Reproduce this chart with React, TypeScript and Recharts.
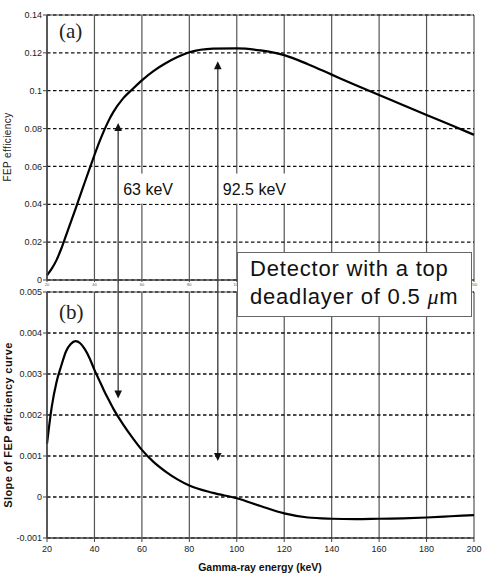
import React from 'react';
import { LineChart, Line, XAxis, YAxis, CartesianGrid, ReferenceLine, ReferenceDot } from 'recharts';

const energyKeV = [20, 22, 24, 26, 28, 30, 32, 34, 36, 38, 40, 42, 44, 46, 48, 52, 56, 60, 65, 70, 75, 80, 90, 100, 110, 120, 130, 140, 150, 160, 170, 180, 190, 200];
const fepEfficiency = [0.0025, 0.006, 0.0105, 0.0165, 0.0235, 0.0305, 0.0375, 0.0447, 0.0519, 0.059, 0.066, 0.0727, 0.0788, 0.0842, 0.0888, 0.0958, 0.1008, 0.1055, 0.1105, 0.1145, 0.1178, 0.1203, 0.1222, 0.1224, 0.1213, 0.1188, 0.114, 0.1085, 0.103, 0.0977, 0.0925, 0.0872, 0.082, 0.0767];
const fepSlope = [0.0013, 0.0022, 0.0028, 0.0032, 0.00355, 0.00373, 0.0038, 0.00375, 0.0036, 0.00338, 0.0031, 0.00285, 0.0026, 0.00237, 0.00215, 0.00178, 0.00145, 0.00115, 0.00085, 0.00062, 0.00043, 0.00028, 0.0001, -0.00003, -0.00022, -0.0004, -0.0005, -0.00053, -0.00054, -0.00053, -0.00052, -0.0005, -0.00047, -0.00044];

const xTicks = [20, 40, 60, 80, 100, 120, 140, 160, 180, 200];
const effTicks = [0, 0.02, 0.04, 0.06, 0.08, 0.1, 0.12, 0.14];
const slopeTicks = [-0.001, 0, 0.001, 0.002, 0.003, 0.004, 0.005];

const arrowEnergy = [50, 92];
const arrowLabels = ['63 keV', '92.5 keV'];
const arrowLabelWidths = [56, 70];
const arrowTopEff = [0.083, 0.1156];
const arrowBottomSlope = [0.0024, 0.00088];
const labelEff = 0.0483;
const effBelowAxis = -0.00063;
const slopeAboveAxis = 0.00529;

const SANS = "'Liberation Sans', Arial, sans-serif";
const SERIF = "'Liberation Serif', 'Times New Roman', serif";

const topData = energyKeV.map((e, i) => ({ energy: e, eff: fepEfficiency[i] }));
const bottomData = energyKeV.map((e, i) => ({ energy: e, slope: fepSlope[i] }));

const arrowShape = (head: 'top' | 'bottom') => (p: any) => {
  const { x1, y1, y2 } = p;
  const tipY = head === 'top' ? Math.min(y1, y2) : Math.max(y1, y2);
  const otherY = head === 'top' ? Math.max(y1, y2) : Math.min(y1, y2);
  const dir = head === 'top' ? 1 : -1;
  return (
    <g>
      <line x1={x1} y1={otherY} x2={x1} y2={tipY + dir * 6} stroke="#444" strokeWidth={1.4} />
      <polygon points={`${x1},${tipY} ${x1 - 3.8},${tipY + dir * 8} ${x1 + 3.8},${tipY + dir * 8}`} fill="#111" />
    </g>
  );
};

const labelShape = (text: string, width: number) => (p: any) => (
  <g>
    <rect x={p.cx + 2} y={p.cy - 15} width={width} height={30} fill="#fff" />
    <text x={p.cx + 5} y={p.cy + 6} fontSize={16} fontFamily={SANS} fill="#111">{text}</text>
  </g>
);

const fmt = (v: number) => String(v);

export default function App() {
  return (
    <div style={{ position: 'absolute', left: 0, top: 0, width: 483, height: 577, background: '#fff', fontFamily: SANS }}>
      <div style={{ position: 'absolute', left: 0, top: 0 }}>
        <LineChart width={483} height={292} data={topData} margin={{ top: 15, right: 9, bottom: 0, left: 0 }}>
          <CartesianGrid horizontal={false} stroke="#555" strokeWidth={1.2} />
          <CartesianGrid vertical={false} stroke="#111" strokeWidth={1.3} strokeDasharray="3.5 2.5" />
          <XAxis dataKey="energy" type="number" domain={[20, 200]} ticks={xTicks} height={12}
            axisLine={{ stroke: '#444', strokeWidth: 1.5 }} tickLine={{ stroke: '#444' }} tickSize={2} tickMargin={1}
            tick={{ fontSize: 4, fill: '#555', fontFamily: SANS }} />
          <YAxis type="number" domain={[0, 0.14]} ticks={effTicks} width={47} tickFormatter={fmt}
            axisLine={{ stroke: '#444', strokeWidth: 1.5 }} tickLine={{ stroke: '#444' }} tickSize={4} tickMargin={1}
            tick={{ fontSize: 9, fill: '#222', fontFamily: SANS }} />
          <ReferenceLine y={0.14} stroke="#555" strokeWidth={1.2} />
          <Line type="monotone" dataKey="eff" stroke="#000" strokeWidth={2.2} dot={false} isAnimationActive={false} />
          {arrowEnergy.map((e, i) => (
            <ReferenceLine key={'ta' + i} ifOverflow="visible" segment={[{ x: e, y: effBelowAxis }, { x: e, y: arrowTopEff[i] }]} shape={arrowShape('top')} />
          ))}
          {arrowEnergy.map((e, i) => (
            <ReferenceDot key={'lb' + i} x={e} y={labelEff} shape={labelShape(arrowLabels[i], arrowLabelWidths[i])} />
          ))}
        </LineChart>
      </div>
      <div style={{ position: 'absolute', left: 0, top: 280 }}>
        <LineChart width={483} height={297} data={bottomData} margin={{ top: 12, right: 9, bottom: 0, left: 0 }}>
          <CartesianGrid horizontal={false} stroke="#555" strokeWidth={1.2} />
          <CartesianGrid vertical={false} stroke="#111" strokeWidth={1.3} strokeDasharray="3.5 2.5" />
          <XAxis dataKey="energy" type="number" domain={[20, 200]} ticks={xTicks} height={39}
            axisLine={{ stroke: '#444', strokeWidth: 1.5 }} tickLine={{ stroke: '#444' }} tickSize={4} tickMargin={4}
            tick={{ fontSize: 9, fill: '#222', fontFamily: SANS }} />
          <YAxis type="number" domain={[-0.001, 0.005]} ticks={slopeTicks} width={47} tickFormatter={fmt}
            axisLine={{ stroke: '#444', strokeWidth: 1.5 }} tickLine={{ stroke: '#444' }} tickSize={4} tickMargin={1}
            tick={{ fontSize: 9, fill: '#222', fontFamily: SANS }} />
          <ReferenceLine y={0.005} stroke="#555" strokeWidth={1.2} />
          <Line type="monotone" dataKey="slope" stroke="#000" strokeWidth={2.2} dot={false} isAnimationActive={false} />
          {arrowEnergy.map((e, i) => (
            <ReferenceLine key={'ba' + i} ifOverflow="visible" segment={[{ x: e, y: slopeAboveAxis }, { x: e, y: arrowBottomSlope[i] }]} shape={arrowShape('bottom')} />
          ))}
        </LineChart>
      </div>

      <div style={{ position: 'absolute', left: 59, top: 21, fontFamily: SERIF, fontSize: 21, lineHeight: 1, color: '#222' }}>(a)</div>
      <div style={{ position: 'absolute', left: 59, top: 302, fontFamily: SERIF, fontSize: 21, lineHeight: 1, color: '#222' }}>(b)</div>

      <div style={{ position: 'absolute', left: 7, top: 147, transform: 'translate(-50%, -50%) rotate(-90deg)', whiteSpace: 'nowrap', fontSize: 10, letterSpacing: 0.4, color: '#222' }}>FEP efficiency</div>
      <div style={{ position: 'absolute', left: 8, top: 425, transform: 'translate(-50%, -50%) rotate(-90deg)', whiteSpace: 'nowrap', fontSize: 11, fontWeight: 'bold', letterSpacing: 0.4, color: '#111' }}>Slope of FEP efficiency curve</div>
      <div style={{ position: 'absolute', left: 260, top: 567, transform: 'translate(-50%, -50%)', whiteSpace: 'nowrap', fontSize: 10.5, fontWeight: 'bold', color: '#111' }}>Gamma-ray energy (keV)</div>

      <div style={{ position: 'absolute', left: 237, top: 252, width: 221, height: 61, border: '1px solid #666', background: '#fff', paddingLeft: 12, paddingTop: 2, boxSizing: 'content-box', fontSize: 22, letterSpacing: 0.8, lineHeight: '28px', color: '#111', whiteSpace: 'nowrap' }}>
        <div>Detector with a top</div>
        <div>deadlayer of 0.5 <span style={{ fontFamily: SERIF, fontStyle: 'italic' }}>μ</span>m</div>
      </div>
    </div>
  );
}
